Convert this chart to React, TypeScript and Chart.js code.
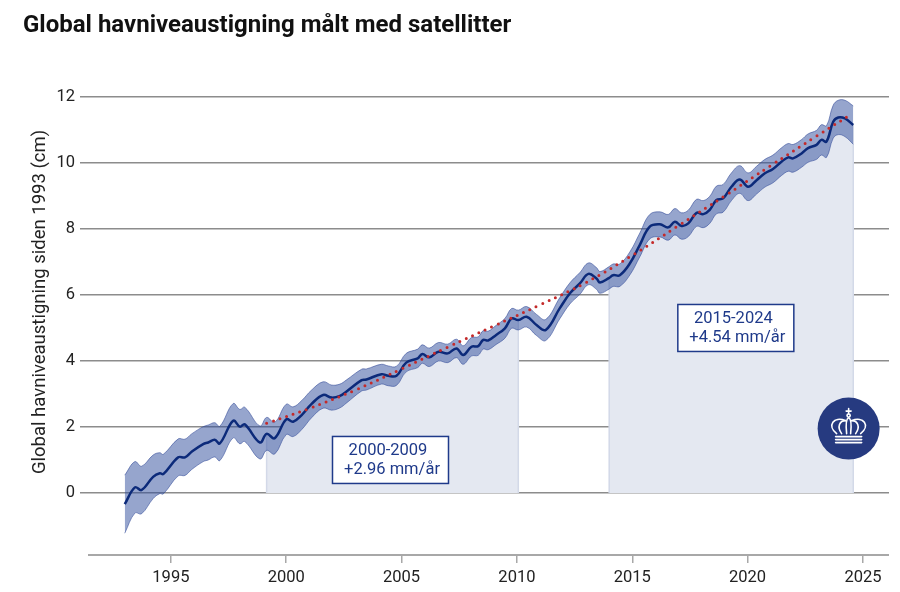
import React, { useEffect, useRef } from "react";
import { Chart, registerables } from "chart.js";

Chart.register(...registerables);

const TITLE = "Global havniveaustigning målt med satellitter";
const Y_TITLE = "Global havniveaustigning siden 1993 (cm)";

const years = [
  1993.0, 1993.44, 1993.73, 1994.23, 1994.52, 1994.67, 1995.32, 1995.61, 1995.9, 1996.4,
  1996.62, 1996.9, 1997.12, 1997.7, 1997.99, 1998.2, 1998.86, 1999.15, 1999.5, 2000.0,
  2000.3, 2000.67, 2001.1, 2001.6, 2001.97, 2002.33, 2002.6, 2003.27, 2003.48, 2004.13,
  2004.42, 2004.78, 2005.2, 2005.7, 2005.9, 2006.2, 2006.6, 2007.0, 2007.38, 2007.67,
  2008.03, 2008.32, 2008.54, 2008.75, 2009.1, 2009.48, 2009.77, 2010.06, 2010.42, 2010.85,
  2011.25, 2011.86, 2012.3, 2012.73, 2013.1, 2013.45, 2013.6, 2014.0, 2014.17, 2014.46,
  2014.9, 2015.33, 2015.76, 2016.2, 2016.56, 2016.85, 2017.14, 2017.43, 2017.79, 2018.08,
  2018.36, 2018.65, 2018.94, 2019.3, 2019.66, 2020.02, 2020.39, 2020.75, 2021.1, 2021.47,
  2021.76, 2021.97, 2022.34, 2022.62, 2022.99, 2023.2, 2023.42, 2023.71, 2023.93, 2024.22,
  2024.58,
];

const level = [
  -0.34, 0.17, 0.09, 0.49, 0.6, 0.57, 1.08, 1.08, 1.25, 1.48,
  1.53, 1.61, 1.5, 2.19, 2.01, 2.08, 1.53, 1.79, 1.66, 2.23,
  2.16, 2.36, 2.7, 2.97, 2.89, 2.94, 3.07, 3.42, 3.44, 3.6,
  3.55, 3.55, 3.95, 4.08, 4.21, 4.11, 4.28, 4.23, 4.38, 4.18,
  4.43, 4.45, 4.64, 4.62, 4.79, 4.99, 5.29, 5.24, 5.34, 5.09,
  4.94, 5.6, 6.05, 6.35, 6.64, 6.5, 6.38, 6.52, 6.6, 6.6,
  6.96, 7.52, 8.07, 8.14, 8.05, 8.22, 8.09, 8.17, 8.49, 8.45,
  8.58, 8.88, 8.93, 9.28, 9.5, 9.28, 9.48, 9.69, 9.82, 10.04,
  10.17, 10.14, 10.29, 10.45, 10.55, 10.7, 10.65, 11.25, 11.38, 11.35,
  11.15,
];

const spread = [
  0.88, 0.78, 0.72, 0.66, 0.62, 0.6, 0.56, 0.55, 0.54, 0.53,
  0.53, 0.52, 0.52, 0.52, 0.52, 0.52, 0.5, 0.5, 0.48, 0.46,
  0.45, 0.44, 0.42, 0.4, 0.38, 0.36, 0.35, 0.33, 0.32, 0.3,
  0.3, 0.29, 0.28, 0.28, 0.28, 0.28, 0.28, 0.28, 0.28, 0.28,
  0.28, 0.28, 0.28, 0.28, 0.29, 0.3, 0.3, 0.3, 0.31, 0.32,
  0.32, 0.32, 0.32, 0.33, 0.33, 0.33, 0.33, 0.34, 0.34, 0.34,
  0.35, 0.36, 0.37, 0.38, 0.39, 0.4, 0.4, 0.4, 0.41, 0.41,
  0.41, 0.42, 0.42, 0.42, 0.42, 0.42, 0.42, 0.42, 0.42, 0.42,
  0.42, 0.42, 0.42, 0.43, 0.44, 0.46, 0.48, 0.5, 0.52, 0.55,
  0.58,
];

const trendYears = [1999.15, 2001, 2003, 2005, 2007, 2009, 2011, 2013, 2015, 2017, 2019, 2021, 2023, 2024.5];
const trendLevel = [2.11, 2.56, 3.12, 3.76, 4.42, 5.06, 5.7, 6.38, 7.2, 8.1, 9.0, 9.92, 10.82, 11.48];

const xTicks = [1995, 2000, 2005, 2010, 2015, 2020, 2025];
const yTicks = [0, 2, 4, 6, 8, 10, 12];

const periods = [
  [1999.15, 2010.06],
  [2014.0, 2024.58],
];
const periodLabels = [
  ["2000-2009", "+2.96 mm/år"],
  ["2015-2024", "+4.54 mm/år"],
];

// placement of annotation boxes / logo (in data units)
const LABEL_AT = [
  [2004.52, 1.0],
  [2019.49, 5.0],
];
const LOGO_AT = [2024.38, 1.95];

const NAVY = "#1f3a8a";

function drawCrown(ctx: CanvasRenderingContext2D, cx: number, cy: number) {
  ctx.save();
  ctx.fillStyle = "#263a80";
  ctx.beginPath();
  ctx.arc(cx, cy, 31, 0, Math.PI * 2);
  ctx.fill();
  ctx.strokeStyle = "#ffffff";
  ctx.lineWidth = 1.6;
  ctx.lineCap = "round";
  for (const dy of [8, 11, 14]) {
    ctx.beginPath();
    ctx.moveTo(cx - 13, cy + dy);
    ctx.lineTo(cx + 13, cy + dy);
    ctx.stroke();
  }
  ctx.beginPath();
  ctx.moveTo(cx - 12, cy + 5);
  ctx.bezierCurveTo(cx - 22, cy - 3, cx - 15, cy - 13, cx - 3, cy - 8);
  ctx.stroke();
  ctx.beginPath();
  ctx.moveTo(cx + 12, cy + 5);
  ctx.bezierCurveTo(cx + 22, cy - 3, cx + 15, cy - 13, cx + 3, cy - 8);
  ctx.stroke();
  ctx.beginPath();
  ctx.moveTo(cx - 7, cy + 5);
  ctx.bezierCurveTo(cx - 12, cy - 2, cx - 9, cy - 8, cx - 3, cy - 8);
  ctx.stroke();
  ctx.beginPath();
  ctx.moveTo(cx + 7, cy + 5);
  ctx.bezierCurveTo(cx + 12, cy - 2, cx + 9, cy - 8, cx + 3, cy - 8);
  ctx.stroke();
  ctx.beginPath();
  ctx.moveTo(cx - 2, cy + 5);
  ctx.bezierCurveTo(cx - 3, cy - 4, cx - 2, cy - 10, cx, cy - 11);
  ctx.bezierCurveTo(cx + 2, cy - 10, cx + 3, cy - 4, cx + 2, cy + 5);
  ctx.stroke();
  ctx.beginPath();
  ctx.arc(cx, cy - 13, 1.6, 0, Math.PI * 2);
  ctx.stroke();
  ctx.beginPath();
  ctx.moveTo(cx, cy - 20);
  ctx.lineTo(cx, cy - 15);
  ctx.moveTo(cx - 2.5, cy - 17.5);
  ctx.lineTo(cx + 2.5, cy - 17.5);
  ctx.stroke();
  ctx.restore();
}

const decor = {
  id: "decor",
  afterDraw(chart: any) {
    const { ctx, chartArea } = chart;
    const x = chart.scales.x;
    const y = chart.scales.y;
    ctx.save();
    // title
    ctx.fillStyle = "#111111";
    ctx.font = "bold 24px Roboto";
    ctx.textAlign = "left";
    ctx.textBaseline = "alphabetic";
    ctx.fillText(TITLE, 23, 32);
    // x axis line
    ctx.strokeStyle = "#a8a8a8";
    ctx.lineWidth = 2;
    ctx.beginPath();
    ctx.moveTo(chartArea.left + 8, chartArea.bottom);
    ctx.lineTo(chartArea.right, chartArea.bottom);
    ctx.stroke();
    // y title
    ctx.save();
    ctx.translate(40, (chartArea.top + y.getPixelForValue(0)) / 2 + 7);
    ctx.rotate(-Math.PI / 2);
    ctx.font = "18.5px Roboto";
    ctx.textAlign = "center";
    ctx.textBaseline = "middle";
    ctx.fillStyle = "#222222";
    ctx.fillText(Y_TITLE, 0, 0);
    ctx.restore();
    // annotation boxes
    periodLabels.forEach((lines, i) => {
      const cx = x.getPixelForValue(LABEL_AT[i][0]);
      const cy = y.getPixelForValue(LABEL_AT[i][1]);
      const w = 116;
      const h = 47;
      ctx.fillStyle = "#ffffff";
      ctx.fillRect(cx - w / 2, cy - h / 2, w, h);
      ctx.strokeStyle = NAVY;
      ctx.lineWidth = 1.5;
      ctx.strokeRect(cx - w / 2, cy - h / 2, w, h);
      ctx.fillStyle = NAVY;
      ctx.font = "16.5px Roboto";
      ctx.textAlign = "center";
      ctx.textBaseline = "middle";
      ctx.fillText(lines[0], cx - 2.5, cy - 9.5);
      ctx.fillText(lines[1], cx + 1.5, cy + 9.5);
    });
    // logo
    drawCrown(ctx, x.getPixelForValue(LOGO_AT[0]), y.getPixelForValue(LOGO_AT[1]));
    ctx.restore();
  },
};

export default function App() {
  const ref = useRef<HTMLCanvasElement>(null);
  useEffect(() => {
    const canvas = ref.current;
    if (!canvas) return;
    const pts = years.map((x, i) => ({ x, y: level[i] }));
    const upper = years.map((x, i) => ({ x, y: level[i] + spread[i] }));
    const lower = years.map((x, i) => ({ x, y: level[i] - spread[i] }));
    const trend = trendYears.map((x, i) => ({ x, y: trendLevel[i] }));
    const shades = periods.map(([a, b]) => {
      const inside = pts.filter((p) => p.x >= a && p.x <= b);
      return [{ x: a, y: 0 }, ...inside, { x: b, y: 0 }];
    });

    const chart = new Chart(canvas, {
      type: "line",
      data: {
        datasets: [
          ...shades.map((d) => ({
            data: d,
            borderColor: "#d3d9e8",
            borderWidth: 1.5,
            backgroundColor: "#e4e8f1",
            fill: "origin",
            pointRadius: 0,
            tension: 0,
            order: 10,
          })),
          {
            data: upper,
            borderColor: "rgba(45,70,150,0.55)",
            borderWidth: 1,
            backgroundColor: "rgba(45,75,155,0.5)",
            fill: "+1",
            pointRadius: 0,
            tension: 0.4,
            order: 5,
          },
          {
            data: lower,
            borderColor: "rgba(45,70,150,0.55)",
            borderWidth: 1,
            fill: false,
            pointRadius: 0,
            tension: 0.4,
            order: 5,
          },
          {
            data: pts,
            borderColor: "#0c2a7a",
            borderWidth: 2.5,
            fill: false,
            pointRadius: 0,
            tension: 0.4,
            order: 2,
          },
          {
            data: trend,
            borderColor: "#c42a2a",
            borderWidth: 3,
            borderDash: [0, 7],
            borderCapStyle: "round",
            fill: false,
            pointRadius: 0,
            tension: 0.4,
            order: 1,
          },
        ] as any,
      },
      options: {
        animation: false,
        responsive: false,
        maintainAspectRatio: false,
        layout: { padding: { top: 97, right: 11, left: 0, bottom: 0 } },
        plugins: { legend: { display: false }, tooltip: { enabled: false }, title: { display: false } },
        scales: {
          x: {
            type: "linear",
            min: 1991.06,
            max: 2026.13,
            border: { display: false },
            grid: { display: true, drawOnChartArea: false, drawTicks: true, tickLength: 8, color: "#a8a8a8", lineWidth: 1.5 },
            ticks: {
              font: { family: "Roboto", size: 16.5 },
              color: "#222222",
              padding: 5,
              maxRotation: 0,
              autoSkip: false,
              callback: (v: any) => String(v),
            },
            afterBuildTicks: (s: any) => {
              s.ticks = xTicks.map((v) => ({ value: v }));
            },
            afterFit: (s: any) => {
              s.height = 37;
            },
          },
          y: {
            type: "linear",
            min: -1.88,
            max: 12,
            border: { display: false },
            grid: { color: "#8c8c8c", lineWidth: 1.5, drawTicks: false },
            ticks: {
              font: { family: "Roboto", size: 16.5 },
              color: "#222222",
              padding: 5,
              callback: (v: any) => String(v),
            },
            afterBuildTicks: (s: any) => {
              s.ticks = yTicks.map((v) => ({ value: v }));
            },
            afterFit: (s: any) => {
              s.width = 80;
            },
          },
        },
      },
      plugins: [decor],
    });
    return () => chart.destroy();
  }, []);

  return (
    <div style={{ position: "absolute", left: 0, top: 0, width: 900, height: 592, background: "#ffffff" }}>
      <canvas ref={ref} width={900} height={592} style={{ display: "block", width: 900, height: 592 }} />
    </div>
  );
}
